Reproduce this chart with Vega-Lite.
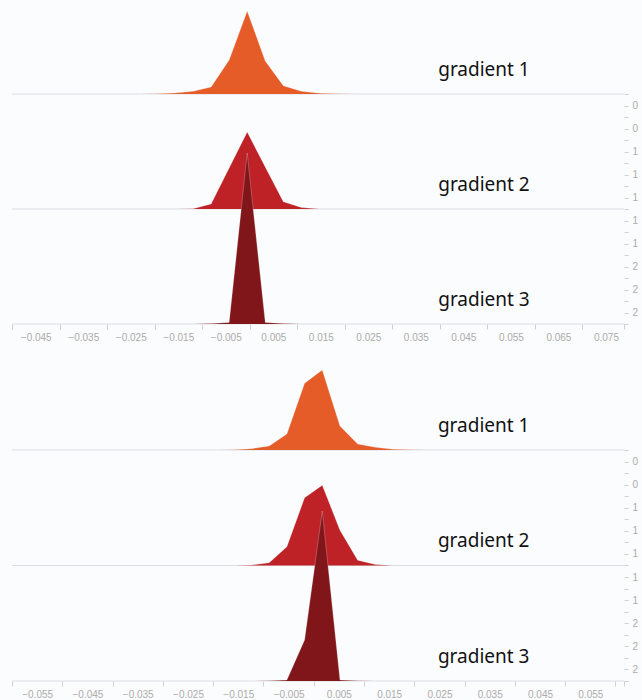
{
  "$schema": "https://vega.github.io/schema/vega-lite/v6.json",
  "width": 612,
  "height": 681,
  "autosize": {"type": "none"},
  "padding": {"left": 12, "top": 0, "right": 18, "bottom": 19},
  "background": "#fbfcfd",
  "config": {
    "view": {"stroke": null},
    "axis": {
      "labelFont": "Liberation Sans",
      "labelFontSize": 10,
      "labelColor": "#ababab",
      "tickColor": "#cfcfcf",
      "domain": false,
      "grid": false,
      "title": null,
      "labelOverlap": false,
      "labelFlush": false
    },
    "area": {"opacity": 1},
    "text": {"font": "Noto Sans", "fontSize": 19, "color": "#111111"}
  },
  "datasets": {
    "labels": [
      {"step": 0, "label": "gradient 1"},
      {"step": 1, "label": "gradient 2"},
      {"step": 2, "label": "gradient 3"}
    ],
    "top": [
      {"series": "gradient 1", "value": -0.0233, "count": 0},
      {"series": "gradient 1", "value": -0.0195, "count": 0.3},
      {"series": "gradient 1", "value": -0.0157, "count": 1},
      {"series": "gradient 1", "value": -0.0119, "count": 2.7},
      {"series": "gradient 1", "value": -0.0081, "count": 7},
      {"series": "gradient 1", "value": -0.0043, "count": 34},
      {"series": "gradient 1", "value": -0.0005, "count": 83},
      {"series": "gradient 1", "value": 0.0033, "count": 33},
      {"series": "gradient 1", "value": 0.0071, "count": 8.3},
      {"series": "gradient 1", "value": 0.0109, "count": 2.7},
      {"series": "gradient 1", "value": 0.0147, "count": 0.8},
      {"series": "gradient 1", "value": 0.0185, "count": 0.2},
      {"series": "gradient 1", "value": 0.0223, "count": 0},
      {"series": "gradient 2", "value": -0.0157, "count": 0},
      {"series": "gradient 2", "value": -0.0119, "count": 0.3},
      {"series": "gradient 2", "value": -0.0081, "count": 5},
      {"series": "gradient 2", "value": -0.0043, "count": 41},
      {"series": "gradient 2", "value": -0.0005, "count": 77},
      {"series": "gradient 2", "value": 0.0033, "count": 42},
      {"series": "gradient 2", "value": 0.0071, "count": 7.3},
      {"series": "gradient 2", "value": 0.0109, "count": 1.5},
      {"series": "gradient 2", "value": 0.0147, "count": 0},
      {"series": "gradient 3", "value": -0.0119, "count": 0},
      {"series": "gradient 3", "value": -0.0081, "count": 0.4},
      {"series": "gradient 3", "value": -0.0043, "count": 1.5},
      {"series": "gradient 3", "value": -0.0005, "count": 171},
      {"series": "gradient 3", "value": 0.0033, "count": 1.5},
      {"series": "gradient 3", "value": 0.0071, "count": 0.4},
      {"series": "gradient 3", "value": 0.0109, "count": 0}
    ],
    "bottom": [
      {"series": "gradient 1", "value": -0.01942, "count": 0},
      {"series": "gradient 1", "value": -0.0159, "count": 0.3},
      {"series": "gradient 1", "value": -0.01238, "count": 1.3},
      {"series": "gradient 1", "value": -0.00886, "count": 4},
      {"series": "gradient 1", "value": -0.00534, "count": 16},
      {"series": "gradient 1", "value": -0.00182, "count": 66.7},
      {"series": "gradient 1", "value": 0.0017, "count": 80},
      {"series": "gradient 1", "value": 0.00522, "count": 24},
      {"series": "gradient 1", "value": 0.00874, "count": 6},
      {"series": "gradient 1", "value": 0.01226, "count": 2.7},
      {"series": "gradient 1", "value": 0.01578, "count": 0.7},
      {"series": "gradient 1", "value": 0.0193, "count": 0.2},
      {"series": "gradient 1", "value": 0.02282, "count": 0},
      {"series": "gradient 2", "value": -0.0159, "count": 0},
      {"series": "gradient 2", "value": -0.01238, "count": 0.5},
      {"series": "gradient 2", "value": -0.00886, "count": 2.7},
      {"series": "gradient 2", "value": -0.00534, "count": 18.7},
      {"series": "gradient 2", "value": -0.00182, "count": 67.7},
      {"series": "gradient 2", "value": 0.0017, "count": 80.3},
      {"series": "gradient 2", "value": 0.00522, "count": 35.3},
      {"series": "gradient 2", "value": 0.00874, "count": 5.3},
      {"series": "gradient 2", "value": 0.01226, "count": 1},
      {"series": "gradient 2", "value": 0.01578, "count": 0},
      {"series": "gradient 3", "value": -0.01238, "count": 0},
      {"series": "gradient 3", "value": -0.00886, "count": 0.3},
      {"series": "gradient 3", "value": -0.00534, "count": 1},
      {"series": "gradient 3", "value": -0.00182, "count": 41},
      {"series": "gradient 3", "value": 0.0017, "count": 170},
      {"series": "gradient 3", "value": 0.00522, "count": 1},
      {"series": "gradient 3", "value": 0.00874, "count": 0.3},
      {"series": "gradient 3", "value": 0.01226, "count": 0}
    ]
  },
  "resolve": {
    "scale": {"x": "independent", "y": "independent"},
    "axis": {"x": "independent", "y": "independent"}
  },
  "layer": [
    {
      "data": {"name": "labels"},
      "mark": {"type": "rule", "color": "#d9dee4", "strokeWidth": 1},
      "encoding": {
        "y": {
          "field": "step", "type": "quantitative",
          "scale": {"domain": [-0.8174, 5.1043], "reverse": true, "nice": false, "zero": false},
          "axis": {
            "orient": "right",
            "values": [0, 0.1, 0.2, 0.3, 0.4, 0.5, 0.6, 0.7, 0.8, 0.9, 1, 1.1, 1.2, 1.3, 1.4, 1.5, 1.6, 1.7, 1.8, 1.9, 2],
            "labelExpr": "round(datum.value * 10) % 2 == 1 ? '' + round(datum.value) : ''",
            "tickSize": 4,
            "labelPadding": 4
          }
        }
      }
    },
    {
      "data": {"name": "top"},
      "transform": [{"filter": "datum.series == 'gradient 1'"}],
      "mark": {"type": "area", "color": "#e65c28", "opacity": 1, "line": {"color": "#ffffff", "strokeWidth": 0.8, "opacity": 0.3}},
      "encoding": {
        "x": {"field": "value", "type": "quantitative", "scale": {"domain": [-0.05, 0.0788], "nice": false, "zero": false}, "axis": null},
        "y": {"field": "count", "type": "quantitative", "scale": {"domain": [-587, 94], "nice": false}, "axis": null},
        "y2": {"datum": 0}
      }
    },
    {
      "data": {"name": "top"},
      "transform": [{"filter": "datum.series == 'gradient 2'"}],
      "mark": {"type": "area", "color": "#be2126", "opacity": 1, "line": {"color": "#ffffff", "strokeWidth": 0.8, "opacity": 0.3}},
      "encoding": {
        "x": {"field": "value", "type": "quantitative", "scale": {"domain": [-0.05, 0.0788], "nice": false, "zero": false}, "axis": null},
        "y": {"field": "count", "type": "quantitative", "scale": {"domain": [-472, 209], "nice": false}, "axis": null},
        "y2": {"datum": 0}
      }
    },
    {
      "data": {"name": "top"},
      "transform": [{"filter": "datum.series == 'gradient 3'"}],
      "mark": {"type": "area", "color": "#80161a", "opacity": 1, "line": {"color": "#ffffff", "strokeWidth": 0.8, "opacity": 0.3}},
      "encoding": {
        "x": {
          "field": "value", "type": "quantitative",
          "scale": {"domain": [-0.05, 0.0788], "nice": false, "zero": false},
          "axis": {
            "orient": "bottom",
            "offset": -357,
            "values": [-0.05, -0.04, -0.03, -0.02, -0.01, 0, 0.01, 0.02, 0.03, 0.04, 0.05, 0.06, 0.07, 0.0788],
            "labelExpr": "datum.value > 0.0751 ? '' : format(datum.value + 0.005, '.3f')",
            "labelOffset": 23.75,
            "tickSize": 5,
            "labelPadding": 3
          }
        },
        "y": {"field": "count", "type": "quantitative", "scale": {"domain": [-357, 324], "nice": false}, "axis": null},
        "y2": {"datum": 0}
      }
    },
    {
      "data": {"name": "labels"},
      "mark": {"type": "text", "align": "left", "baseline": "alphabetic", "dy": -18},
      "encoding": {
        "x": {"datum": 0.0397, "type": "quantitative", "scale": {"domain": [-0.05, 0.0788], "nice": false, "zero": false}, "axis": null},
        "y": {"field": "step", "type": "quantitative", "scale": {"domain": [-0.8174, 5.1043], "reverse": true, "nice": false, "zero": false}, "axis": null},
        "text": {"field": "label"}
      }
    },
    {
      "data": {"name": "labels"},
      "mark": {"type": "rule", "color": "#d9dee4", "strokeWidth": 1},
      "encoding": {
        "y": {
          "field": "step", "type": "quantitative",
          "scale": {"domain": [-3.8961, 2], "reverse": true, "nice": false, "zero": false},
          "axis": {
            "orient": "right",
            "values": [0, 0.1, 0.2, 0.3, 0.4, 0.5, 0.6, 0.7, 0.8, 0.9, 1, 1.1, 1.2, 1.3, 1.4, 1.5, 1.6, 1.7, 1.8, 1.9, 2],
            "labelExpr": "round(datum.value * 10) % 2 == 1 ? '' + round(datum.value) : ''",
            "tickSize": 4,
            "labelPadding": 4
          }
        }
      }
    },
    {
      "data": {"name": "bottom"},
      "transform": [{"filter": "datum.series == 'gradient 1'"}],
      "mark": {"type": "area", "color": "#e65c28", "opacity": 1, "line": {"color": "#ffffff", "strokeWidth": 0.8, "opacity": 0.3}},
      "encoding": {
        "x": {"field": "value", "type": "quantitative", "scale": {"domain": [-0.06, 0.0617], "nice": false, "zero": false}, "axis": null},
        "y": {"field": "count", "type": "quantitative", "scale": {"domain": [-231, 450], "nice": false}, "axis": null},
        "y2": {"datum": 0}
      }
    },
    {
      "data": {"name": "bottom"},
      "transform": [{"filter": "datum.series == 'gradient 2'"}],
      "mark": {"type": "area", "color": "#be2126", "opacity": 1, "line": {"color": "#ffffff", "strokeWidth": 0.8, "opacity": 0.3}},
      "encoding": {
        "x": {"field": "value", "type": "quantitative", "scale": {"domain": [-0.06, 0.0617], "nice": false, "zero": false}, "axis": null},
        "y": {"field": "count", "type": "quantitative", "scale": {"domain": [-115.5, 565.5], "nice": false}, "axis": null},
        "y2": {"datum": 0}
      }
    },
    {
      "data": {"name": "bottom"},
      "transform": [{"filter": "datum.series == 'gradient 3'"}],
      "mark": {"type": "area", "color": "#80161a", "opacity": 1, "line": {"color": "#ffffff", "strokeWidth": 0.8, "opacity": 0.3}},
      "encoding": {
        "x": {
          "field": "value", "type": "quantitative",
          "scale": {"domain": [-0.06, 0.0617], "nice": false, "zero": false},
          "axis": {
            "orient": "bottom",
            "values": [-0.06, -0.05, -0.04, -0.03, -0.02, -0.01, 0, 0.01, 0.02, 0.03, 0.04, 0.05, 0.06, 0.0617],
            "labelExpr": "datum.value > 0.0551 ? '' : format(datum.value + 0.005, '.3f')",
            "labelOffset": 25.15,
            "tickSize": 5,
            "labelPadding": 3
          }
        },
        "y": {"field": "count", "type": "quantitative", "scale": {"domain": [0, 681], "nice": false}, "axis": null},
        "y2": {"datum": 0}
      }
    },
    {
      "data": {"name": "labels"},
      "mark": {"type": "text", "align": "left", "baseline": "alphabetic", "dy": -18},
      "encoding": {
        "x": {"datum": 0.0247, "type": "quantitative", "scale": {"domain": [-0.06, 0.0617], "nice": false, "zero": false}, "axis": null},
        "y": {"field": "step", "type": "quantitative", "scale": {"domain": [-3.8961, 2], "reverse": true, "nice": false, "zero": false}, "axis": null},
        "text": {"field": "label"}
      }
    }
  ]
}
